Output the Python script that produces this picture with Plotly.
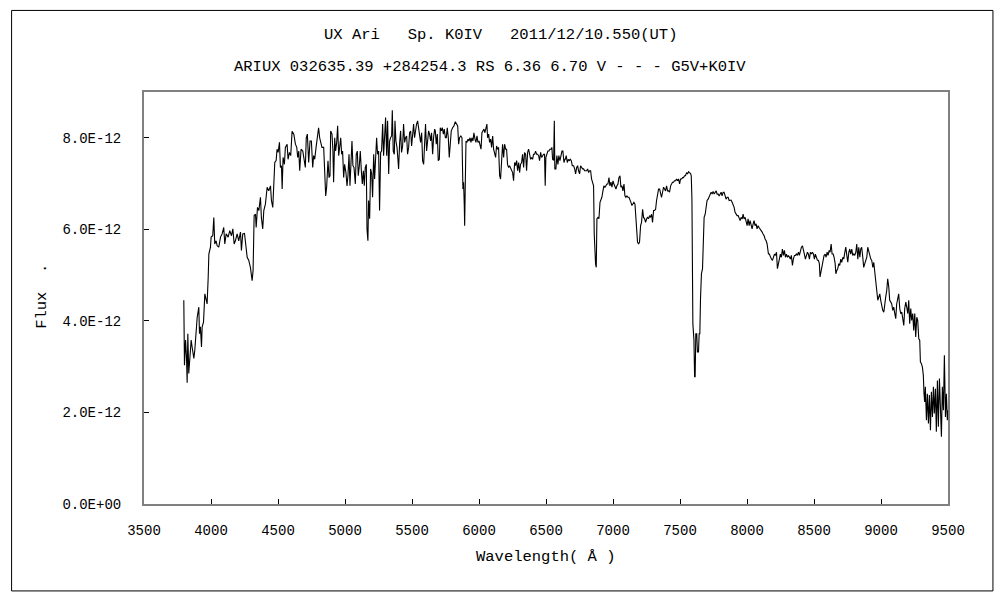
import plotly.graph_objects as go

# Spectrum (wavelength in Angstrom, flux in units of 1E-12)
WAVELENGTH = [
    3797, 3802, 3810, 3817, 3822, 3827, 3834, 3844, 3852, 3859,
    3872, 3879, 3889, 3897, 3909, 3914, 3921, 3929, 3934, 3944,
    3954, 3964, 3971, 3979, 3984, 3996, 4001, 4013, 4021, 4028,
    4038, 4046, 4058, 4071, 4083, 4095, 4103, 4113, 4128, 4140,
    4153, 4163, 4173, 4182, 4195, 4207, 4220, 4227, 4237, 4250,
    4257, 4270, 4282, 4294, 4307, 4314, 4322, 4332, 4337, 4347,
    4357, 4369, 4376, 4386, 4394, 4406, 4419, 4431, 4444, 4451,
    4461, 4468, 4476, 4486, 4493, 4501, 4511, 4518, 4526, 4531,
    4538, 4548, 4555, 4568, 4575, 4585, 4595, 4605, 4618, 4630,
    4640, 4647, 4655, 4662, 4672, 4685, 4695,
    4704, 4711, 4719, 4729, 4739, 4749, 4759, 4766, 4774, 4784,
    4794, 4803, 4811, 4821, 4828, 4841, 4848, 4856, 4863, 4873,
    4881, 4888, 4893, 4903, 4910, 4915, 4923, 4930, 4938, 4945,
    4953, 4960, 4968, 4975, 4982, 4990, 4997, 5007, 5015, 5022,
    5030, 5037, 5045, 5052, 5059, 5067, 5077, 5084, 5092, 5099,
    5107, 5114, 5122, 5129, 5137, 5144, 5151, 5159, 5164, 5171,
    5176, 5184, 5191, 5199, 5206, 5214, 5221, 5229, 5236, 5243,
    5251, 5258, 5266, 5273, 5281, 5288, 5296, 5303, 5311, 5318,
    5326, 5333, 5340, 5348, 5353, 5360, 5368, 5373, 5380, 5388,
    5395, 5400, 5408, 5415, 5422, 5430, 5437, 5445, 5452, 5460,
    5467, 5475, 5482, 5490, 5497, 5505, 5512, 5519, 5527, 5534,
    5542, 5549, 5557, 5564, 5572, 5579, 5587, 5594, 5601, 5609,
    5616, 5624, 5631, 5639, 5646, 5654, 5661, 5669,
    5674, 5681, 5689, 5696, 5704, 5711, 5719, 5726, 5734, 5741,
    5749, 5756, 5763, 5771, 5778, 5786, 5793, 5803, 5813, 5823,
    5833, 5841, 5848, 5855, 5865, 5873, 5880, 5885, 5890, 5893,
    5898, 5903, 5910, 5918, 5925, 5933, 5940, 5947, 5955, 5962,
    5970, 5977, 5985, 5992, 6000, 6007, 6015, 6022, 6030, 6037,
    6044, 6052, 6059, 6064, 6072, 6079, 6087, 6094, 6102, 6109,
    6117, 6124, 6131, 6139, 6146, 6154, 6161, 6169, 6176, 6184,
    6191, 6199, 6206, 6213, 6221, 6228, 6236, 6243, 6251, 6258,
    6266, 6273, 6281, 6288, 6296, 6303, 6310, 6318, 6325, 6333,
    6340, 6348, 6355, 6363, 6370, 6378, 6385, 6392, 6400, 6407,
    6415, 6422, 6430, 6437, 6445, 6452, 6460, 6467, 6475, 6482,
    6489, 6494, 6499, 6507, 6514, 6522, 6529, 6537, 6544, 6549,
    6557, 6562, 6566, 6574, 6581, 6589, 6596, 6604, 6611, 6619,
    6626, 6634, 6641,
    6644, 6651, 6659, 6666, 6674, 6681, 6689, 6696, 6706, 6714,
    6721, 6729, 6736, 6743, 6751, 6758, 6766, 6773, 6781, 6788,
    6796, 6803, 6811, 6818, 6825, 6833, 6840, 6848, 6855, 6860,
    6865, 6870, 6875, 6880, 6888, 6895, 6903, 6910, 6917, 6925,
    6932, 6940, 6947, 6955, 6962, 6970, 6977, 6985, 6992, 7000,
    7007, 7014, 7022, 7029, 7037, 7044, 7052, 7059, 7067, 7074,
    7082, 7089, 7096, 7104, 7111, 7119, 7126, 7134, 7141, 7149,
    7156, 7164, 7171, 7179, 7183, 7191, 7198, 7206, 7213, 7221,
    7228, 7236, 7243, 7251, 7258, 7265, 7273, 7280, 7288, 7295,
    7303, 7310, 7318, 7325, 7333, 7340, 7348, 7355, 7362, 7370,
    7377, 7385, 7392, 7400, 7407, 7415, 7422, 7430, 7437, 7444,
    7452, 7459, 7467, 7474, 7482, 7489, 7497, 7504, 7512, 7519,
    7526, 7534, 7541, 7549, 7556, 7564, 7571, 7579, 7584, 7589,
    7596, 7604, 7609,
    7613, 7618, 7625, 7630, 7638, 7643, 7648, 7653, 7660, 7668,
    7673, 7680, 7688, 7695, 7702, 7710, 7717, 7725, 7732, 7740,
    7747, 7755, 7762, 7770, 7777, 7785, 7792, 7799, 7807, 7814,
    7822, 7829, 7837, 7844, 7852, 7859, 7867, 7874, 7881, 7889,
    7896, 7904, 7911, 7919, 7926, 7934, 7941, 7949, 7956, 7964,
    7971, 7978, 7986, 7993, 8001, 8008, 8016, 8023, 8031, 8038,
    8046, 8053, 8060, 8068, 8075, 8083, 8090, 8098, 8105, 8113,
    8120, 8128, 8135, 8143, 8150, 8155, 8160, 8167, 8175, 8182,
    8190, 8197, 8205, 8212, 8220, 8227, 8235, 8242, 8249, 8257,
    8264, 8272, 8279, 8287, 8294, 8302, 8309, 8317, 8324, 8331,
    8339, 8346, 8354, 8361, 8369, 8376, 8384, 8391, 8399, 8406,
    8414, 8421, 8428, 8436, 8443, 8451, 8458, 8466, 8473, 8481,
    8488, 8496, 8503, 8510, 8518, 8525, 8533, 8540, 8545, 8553,
    8560, 8568, 8575,
    8583, 8590, 8598, 8605, 8613, 8620, 8628, 8635, 8643, 8650,
    8658, 8663, 8670, 8677, 8685, 8692, 8700, 8707, 8715, 8722,
    8730, 8737, 8745, 8752, 8760, 8767, 8774, 8782, 8789, 8797,
    8804, 8812, 8819, 8827, 8834, 8842, 8849, 8856, 8864, 8871,
    8879, 8886, 8894, 8901, 8909, 8916, 8924, 8931, 8939, 8946,
    8953, 8961, 8968, 8976, 8983, 8991, 8998, 9006, 9013, 9021,
    9028, 9035, 9043, 9050, 9058, 9065, 9073, 9080, 9088, 9095,
    9103, 9110, 9117, 9125, 9132, 9140, 9147, 9155, 9162, 9170,
    9177, 9185, 9192, 9200, 9207, 9214, 9222, 9229, 9237, 9244,
    9252, 9259, 9267, 9274, 9282, 9289, 9294, 9301, 9309, 9316,
    9321, 9326, 9331, 9339, 9346, 9354, 9361, 9369, 9376, 9384,
    9391, 9398, 9406, 9413, 9421, 9428, 9436, 9443, 9451, 9458,
    9466, 9473, 9481, 9488, 9495, 9500,
]

FLUX_E12 = [
    4.45, 3.03, 3.58, 3.21, 2.65, 3.72, 2.85, 3.29, 3.58, 3.43,
    3.18, 3.36, 3.87, 4.08, 4.30, 3.72, 3.87, 3.43, 3.87, 3.97,
    4.59, 4.45, 4.37, 4.95, 5.46, 5.61, 5.83, 5.86, 6.26, 5.68,
    5.75, 5.64, 5.61, 5.83, 5.90, 6.04, 5.68, 5.90, 5.83, 5.97,
    5.86, 6.01, 5.68, 5.75, 5.90, 5.75, 5.94, 5.54, 5.90, 5.91,
    5.68, 5.39, 5.32, 5.17, 4.88, 5.10, 6.30, 6.33, 6.04, 6.48,
    6.41, 6.70, 6.26, 6.01, 6.41, 6.55, 6.92, 6.84, 6.95, 6.63,
    6.48, 7.06, 7.46, 7.50, 7.75, 7.68, 7.90, 7.35, 7.39, 6.88,
    7.57, 7.42, 7.79, 7.86, 7.53, 7.68, 7.61, 8.14, 8.08, 7.86,
    7.79, 7.57, 7.71, 7.28, 7.75, 7.71, 7.50,
    7.35, 8.00, 8.08, 7.46, 7.93, 7.93, 7.35, 7.61, 7.53, 7.79,
    8.00, 8.22, 8.00, 7.90, 7.79, 7.79, 7.32, 6.73, 6.92, 7.50,
    7.13, 7.17, 8.15, 8.08, 7.71, 7.03, 8.00, 7.71, 7.90, 8.26,
    7.61, 7.86, 8.00, 7.64, 7.71, 7.13, 7.42, 7.24, 6.95, 7.17,
    7.64, 6.95, 7.35, 7.93, 7.39, 7.35, 6.99, 7.64, 7.71, 7.17,
    7.39, 7.71, 7.28, 6.99, 7.28, 6.95, 7.35, 7.42, 6.01, 5.75,
    6.63, 6.23, 7.32, 7.21, 6.70, 7.64, 7.10, 7.64, 8.00, 7.64,
    7.71, 6.41, 7.68, 7.71, 8.30, 7.61, 8.11, 8.44, 7.61, 8.37,
    7.21, 7.93, 8.00, 8.04, 8.60, 7.71, 7.64, 8.37, 7.93, 7.79,
    7.53, 7.32, 7.90, 8.15, 7.68, 7.82, 8.30, 7.90, 8.00, 8.04,
    7.64, 7.79, 8.11, 8.15, 7.82, 8.04, 8.30, 8.00, 8.22, 8.30,
    8.37, 8.22, 7.97, 7.90, 8.11, 7.50, 7.42, 7.75, 8.30, 7.71,
    7.86, 8.15, 8.08, 7.93, 8.11, 7.64, 8.00, 8.19,
    8.15, 7.86, 8.08, 7.50, 7.53, 8.22, 8.15, 8.22, 8.08, 8.19,
    8.00, 8.00, 8.22, 8.00, 7.57, 7.93, 8.15, 8.22, 8.26, 8.35,
    8.30, 8.26, 7.86, 8.00, 8.04, 8.00, 6.88, 7.03, 6.55, 6.08,
    7.06, 7.93, 7.90, 7.97, 7.93, 8.00, 7.90, 8.00, 7.93, 8.11,
    7.97, 7.90, 8.04, 7.90, 7.93, 7.82, 7.75, 8.11, 8.15, 8.19,
    8.11, 8.22, 8.30, 8.00, 8.08, 7.90, 7.97, 7.79, 8.04, 7.75,
    7.64, 7.57, 7.82, 7.75, 7.79, 7.17, 7.10, 7.71, 7.86, 7.57,
    7.86, 7.75, 7.75, 7.42, 7.35, 7.39, 7.32, 7.28, 7.24, 7.06,
    7.46, 7.39, 7.50, 7.28, 7.46, 7.24, 7.42, 7.46, 7.64, 7.35,
    7.68, 7.64, 7.28, 7.68, 7.75, 7.64, 7.53, 7.57, 7.53, 7.64,
    7.64, 7.71, 7.64, 7.64, 7.61, 7.50, 7.68, 7.57, 7.61, 7.64,
    7.64, 6.95, 7.57, 7.64, 7.71, 7.71, 7.75, 7.75, 7.79, 7.53,
    7.51, 8.37, 7.32, 7.32, 7.61, 7.42, 7.61, 7.50, 7.64, 7.71,
    7.71, 7.46, 7.53,
    7.53, 7.61, 7.46, 7.53, 7.50, 7.53, 7.50, 7.39, 7.39, 7.32,
    7.21, 7.35, 7.39, 7.28, 7.21, 7.39, 7.35, 7.32, 7.32, 7.28,
    7.28, 7.28, 7.32, 7.24, 7.28, 7.28, 7.10, 7.03, 6.95, 5.90,
    5.28, 5.24, 5.17, 6.23, 6.26, 6.23, 6.59, 6.66, 6.70, 6.84,
    6.95, 6.92, 6.95, 6.99, 6.99, 7.13, 6.95, 7.03, 6.92, 7.06,
    6.99, 6.92, 6.88, 6.95, 6.99, 7.13, 7.17, 6.92, 6.95, 6.84,
    6.99, 6.73, 6.70, 6.73, 6.70, 6.70, 6.66, 6.59, 6.52, 6.55,
    6.59, 6.55, 6.30, 6.04, 5.72, 5.68, 5.72, 6.08, 6.15, 6.44,
    6.26, 6.23, 6.15, 6.23, 6.26, 6.23, 6.30, 6.26, 6.33, 6.15,
    6.41, 6.41, 6.44, 6.63, 6.73, 6.88, 6.88, 6.77, 6.70, 6.81,
    6.92, 6.88, 6.84, 6.95, 6.84, 6.84, 6.81, 6.95, 6.99, 7.03,
    7.03, 7.06, 7.06, 7.10, 7.06, 7.10, 6.99, 7.10, 7.10, 7.13,
    7.13, 7.17, 7.17, 7.24, 7.21, 7.26, 7.24, 7.22, 7.17, 6.66,
    3.94, 3.58, 2.78,
    2.78, 3.72, 3.72, 3.32, 3.32, 3.72, 3.72, 4.48, 5.03, 5.14,
    5.83, 6.26, 6.33, 6.55, 6.63, 6.66, 6.70, 6.77, 6.81, 6.77,
    6.83, 6.77, 6.81, 6.84, 6.77, 6.77, 6.73, 6.77, 6.81, 6.73,
    6.81, 6.81, 6.70, 6.66, 6.70, 6.70, 6.63, 6.63, 6.64, 6.59,
    6.55, 6.48, 6.37, 6.33, 6.30, 6.30, 6.26, 6.19, 6.26, 6.23,
    6.33, 6.23, 6.26, 6.15, 6.08, 6.23, 6.08, 6.19, 6.12, 6.01,
    6.12, 6.19, 6.08, 6.12, 6.01, 6.08, 6.04, 6.01, 5.97, 5.94,
    5.90, 5.86, 5.79, 5.75, 5.68, 5.57, 5.46, 5.46, 5.39, 5.35,
    5.32, 5.39, 5.46, 5.43, 5.50, 5.14, 5.25, 5.35, 5.46, 5.39,
    5.57, 5.43, 5.54, 5.39, 5.46, 5.39, 5.43, 5.39, 5.35, 5.43,
    5.21, 5.35, 5.43, 5.43, 5.46, 5.43, 5.50, 5.43, 5.54, 5.61,
    5.64, 5.57, 5.46, 5.35, 5.46, 5.50, 5.46, 5.35, 5.50, 5.46,
    5.50, 5.46, 5.35, 5.46, 5.39, 5.33, 5.32, 5.25, 4.96, 5.10,
    5.25, 5.39, 5.43,
    5.46, 5.39, 5.50, 5.43, 5.54, 5.50, 5.68, 5.46, 5.46, 5.39,
    5.25, 5.03, 5.10, 5.14, 5.25, 5.21, 5.35, 5.28, 5.39, 5.35,
    5.50, 5.61, 5.43, 5.28, 5.50, 5.57, 5.46, 5.57, 5.43, 5.46,
    5.43, 5.50, 5.68, 5.35, 5.61, 5.39, 5.57, 5.61, 5.39, 5.17,
    5.25, 5.32, 5.39, 5.61, 5.50, 5.46, 5.35, 5.32, 5.17, 5.28,
    5.10, 4.85, 4.74, 4.45, 4.52, 4.59, 4.45, 4.30, 4.23, 4.19,
    4.45, 4.52, 4.67, 4.92, 4.74, 4.45, 4.41, 4.37, 4.23, 4.30,
    4.16, 4.05, 4.37, 4.52, 4.59, 4.27, 4.16, 4.19, 4.05, 3.90,
    4.27, 4.41, 4.30, 4.16, 4.45, 3.94, 4.27, 4.01, 4.16, 3.79,
    4.16, 3.65, 4.08, 4.01, 3.61, 3.58, 3.10, 3.07, 2.99, 2.81,
    2.41, 2.23, 2.56, 1.83, 2.41, 1.76, 2.38, 1.61, 2.45, 1.90,
    2.56, 1.98, 2.52, 1.58, 2.70, 1.69, 2.74, 1.87, 1.47, 2.56,
    2.05, 3.25, 1.90, 2.41, 1.83, 2.05,
]

Y_TICKS_E12 = [0, 2, 4, 6, 8]
Y_TICK_TEXT = ["0.0E+00", "2.0E-12", "4.0E-12", "6.0E-12", "8.0E-12"]

NB = "\u00a0"
TITLE_1 = "UX Ari" + NB * 3 + "Sp. K0IV" + NB * 3 + "2011/12/10.550(UT)"
TITLE_2 = "ARIUX 032635.39 +284254.3 RS 6.36 6.70 V - - - G5V+K0IV"
X_TITLE = "Wavelength(" + NB + "Å" + NB + ")"
Y_TITLE = "Flux" + NB * 2 + "."

flux = [v * 1e-12 for v in FLUX_E12]
FONT = "Liberation Mono, DejaVu Sans Mono, monospace"

fig = go.Figure()
fig.add_trace(go.Scatter(
    x=WAVELENGTH,
    y=flux,
    mode="lines",
    line=dict(color="black", width=1.1),
    showlegend=False,
))

fig.update_layout(
    width=1000,
    height=600,
    margin=dict(l=144, r=52, t=92, b=96),
    paper_bgcolor="white",
    plot_bgcolor="white",
    font=dict(family=FONT, size=14, color="black"),
    xaxis=dict(
        range=[3500, 9500],
        dtick=500,
        tick0=3500,
        ticks="inside",
        ticklen=5,
        tickcolor="black",
        showline=True,
        linecolor="#808080",
        linewidth=2,
        mirror=True,
        showgrid=False,
        zeroline=False,
        ticklabelstandoff=12,
    ),
    yaxis=dict(
        range=[0, 9e-12],
        tickvals=[v * 1e-12 for v in Y_TICKS_E12],
        ticktext=Y_TICK_TEXT,
        ticks="inside",
        ticklen=5,
        tickcolor="black",
        showline=True,
        linecolor="#808080",
        linewidth=2,
        mirror=True,
        showgrid=False,
        zeroline=False,
        ticklabelstandoff=18,
    ),
    annotations=[
        dict(text=TITLE_1, xref="paper", yref="paper", x=0.443, y=1.1375,
             showarrow=False, xanchor="center", yanchor="middle",
             font=dict(size=15.5)),
        dict(text=TITLE_2, xref="paper", yref="paper", x=0.43, y=1.06,
             showarrow=False, xanchor="center", yanchor="middle",
             font=dict(size=15.5)),
        dict(text=X_TITLE, xref="paper", yref="paper", x=0.5, y=-0.1285,
             showarrow=False, xanchor="center", yanchor="middle",
             font=dict(size=15.5)),
        dict(text=Y_TITLE, xref="paper", yref="paper",
             x=-0.127, y=0.505, textangle=-90, showarrow=False,
             xanchor="center", yanchor="middle", font=dict(size=15.5)),
    ],
    shapes=[
        dict(type="rect", xref="paper", yref="paper",
             x0=-0.1647, x1=1.0559, y0=-0.211, y1=1.198,
             line=dict(color="black", width=1), layer="below"),
    ],
)

fig.write_html("out.html", config={"displayModeBar": False},
               post_script="document.body.style.margin='0';")
